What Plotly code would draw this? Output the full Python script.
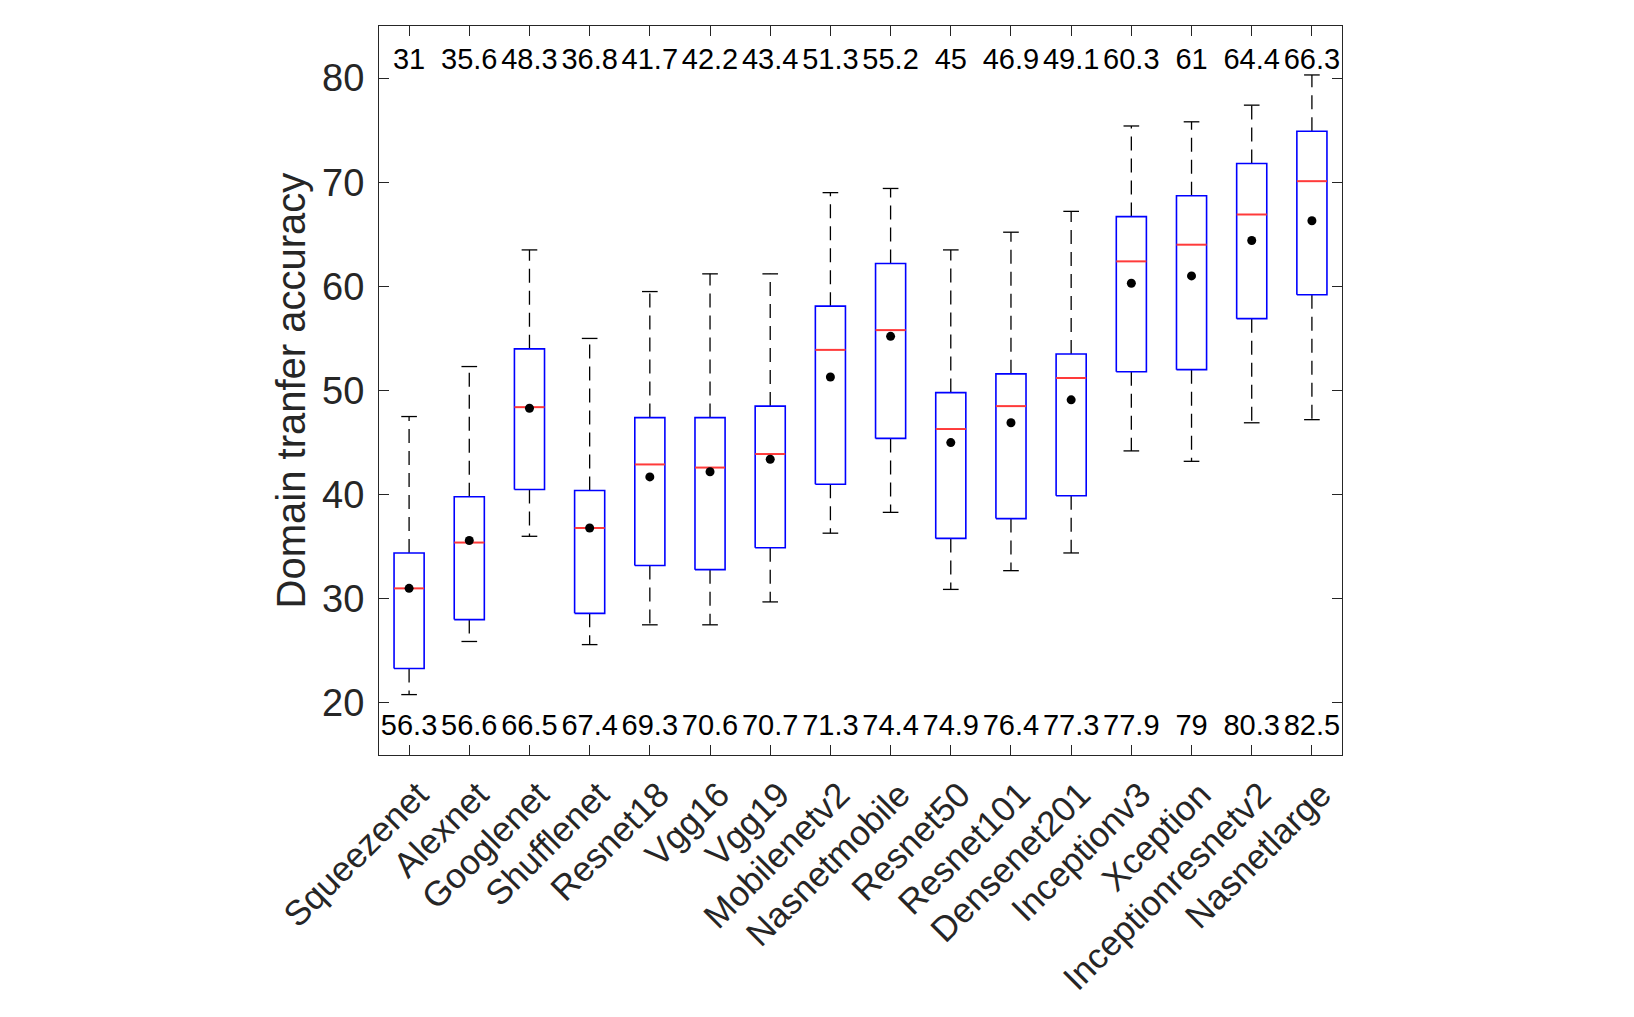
import plotly.graph_objects as go

# ---------------- data ----------------
models = ["Squeezenet", "Alexnet", "Googlenet", "Shufflenet", "Resnet18", "Vgg16",
          "Vgg19", "Mobilenetv2", "Nasnetmobile", "Resnet50", "Resnet101",
          "Densenet201", "Inceptionv3", "Xception", "Inceptionresnetv2", "Nasnetlarge"]
lower_whisker = [20.8, 25.9, 36.0, 25.6, 27.5, 27.5, 29.7, 36.3, 38.3, 30.9, 32.7, 34.4, 44.2, 43.2, 46.9, 47.2]
q1 = [23.3, 28.0, 40.5, 28.6, 33.2, 32.8, 34.9, 41.0, 45.4, 35.8, 37.7, 39.9, 51.8, 52.0, 56.9, 59.2]
median = [31.0, 35.4, 48.4, 36.8, 42.9, 42.6, 43.9, 53.9, 55.8, 46.3, 48.5, 51.2, 62.4, 64.0, 66.9, 70.1]
q3 = [34.4, 39.8, 54.0, 40.4, 47.4, 47.4, 48.5, 58.1, 62.2, 49.8, 51.6, 53.5, 66.7, 68.7, 71.8, 74.9]
upper_whisker = [47.5, 52.3, 63.5, 55.0, 59.5, 61.2, 61.2, 69.0, 69.4, 63.5, 65.2, 67.2, 75.4, 75.8, 77.4, 80.3]
mean_vals = [31, 35.6, 48.3, 36.8, 41.7, 42.2, 43.4, 51.3, 55.2, 45, 46.9, 49.1, 60.3, 61, 64.4, 66.3]
max_vals = [56.3, 56.6, 66.5, 67.4, 69.3, 70.6, 70.7, 71.3, 74.4, 74.9, 76.4, 77.3, 77.9, 79, 80.3, 82.5]
y_ticks = [20, 30, 40, 50, 60, 70, 80]

# ---------------- style ----------------
BOX_HALF = 0.25
CAP_HALF = 0.13
TXT = "#262626"
FONT = "Liberation Sans, Arial, Helvetica, sans-serif"
TOP_TEXT_Y = 81.6
BOTTOM_TEXT_Y = 17.6

pos = list(range(1, len(models) + 1))

# build line geometry from data
box_x, box_y = [], []
med_x, med_y = [], []
wh_x, wh_y = [], []
cap_x, cap_y = [], []
for p, a, b, m, lo, hi in zip(pos, q1, q3, median, lower_whisker, upper_whisker):
    box_x += [p - BOX_HALF, p + BOX_HALF, p + BOX_HALF, p - BOX_HALF, p - BOX_HALF, None]
    box_y += [a, a, b, b, a, None]
    med_x += [p - BOX_HALF, p + BOX_HALF, None]
    med_y += [m, m, None]
    wh_x += [p, p, None, p, p, None]
    wh_y += [b, hi, None, a, lo, None]
    cap_x += [p - CAP_HALF, p + CAP_HALF, None, p - CAP_HALF, p + CAP_HALF, None]
    cap_y += [hi, hi, None, lo, lo, None]

fig = go.Figure()
fig.add_trace(go.Scatter(x=wh_x, y=wh_y, mode="lines",
                         line=dict(color="black", width=1.3, dash="14px,8px"),
                         hoverinfo="skip"))
fig.add_trace(go.Scatter(x=cap_x, y=cap_y, mode="lines",
                         line=dict(color="black", width=1.3), hoverinfo="skip"))
fig.add_trace(go.Scatter(x=box_x, y=box_y, mode="lines",
                         line=dict(color="#0000ff", width=1.6), hoverinfo="skip"))
fig.add_trace(go.Scatter(x=med_x, y=med_y, mode="lines",
                         line=dict(color="#ff3a3a", width=2), hoverinfo="skip"))
fig.add_trace(go.Scatter(x=pos, y=mean_vals, mode="markers",
                         marker=dict(color="black", size=9)))
fig.add_trace(go.Scatter(x=pos, y=[TOP_TEXT_Y] * len(pos), mode="text",
                         text=[f"{v:g}" for v in mean_vals],
                         textfont=dict(family=FONT, size=29, color="black"),
                         textposition="middle center", hoverinfo="skip"))
fig.add_trace(go.Scatter(x=pos, y=[BOTTOM_TEXT_Y] * len(pos), mode="text",
                         text=[f"{v:g}" for v in max_vals],
                         textfont=dict(family=FONT, size=29, color="black"),
                         textposition="middle center", hoverinfo="skip"))

fig.update_layout(
    width=1634, height=1017,
    margin=dict(l=371, r=300, t=18, b=270),
    plot_bgcolor="white", paper_bgcolor="white",
    showlegend=False,
    font=dict(family=FONT, color=TXT),
)
fig.update_xaxes(
    range=[0.5, 16.5], tickmode="array", tickvals=pos, ticktext=models,
    tickangle=-45, ticks="inside", ticklen=10, tickcolor=TXT,
    showline=True, linecolor=TXT, linewidth=1.2, mirror="ticks",
    showgrid=False, zeroline=False,
    ticklabelshift=9, ticklabelstandoff=4,
    tickfont=dict(family=FONT, size=35, color=TXT),
)
fig.update_yaxes(
    range=[15, 85], tickmode="array", tickvals=y_ticks,
    ticks="inside", ticklen=10, tickcolor=TXT,
    showline=True, linecolor=TXT, linewidth=1.2, mirror="ticks",
    showgrid=False, zeroline=False,
    tickfont=dict(family=FONT, size=38, color=TXT),
    ticklabelstandoff=6,
    title=dict(text="Domain tranfer accuracy", font=dict(family=FONT, size=40, color=TXT),
               standoff=4),
)

fig.write_html("out.html")
